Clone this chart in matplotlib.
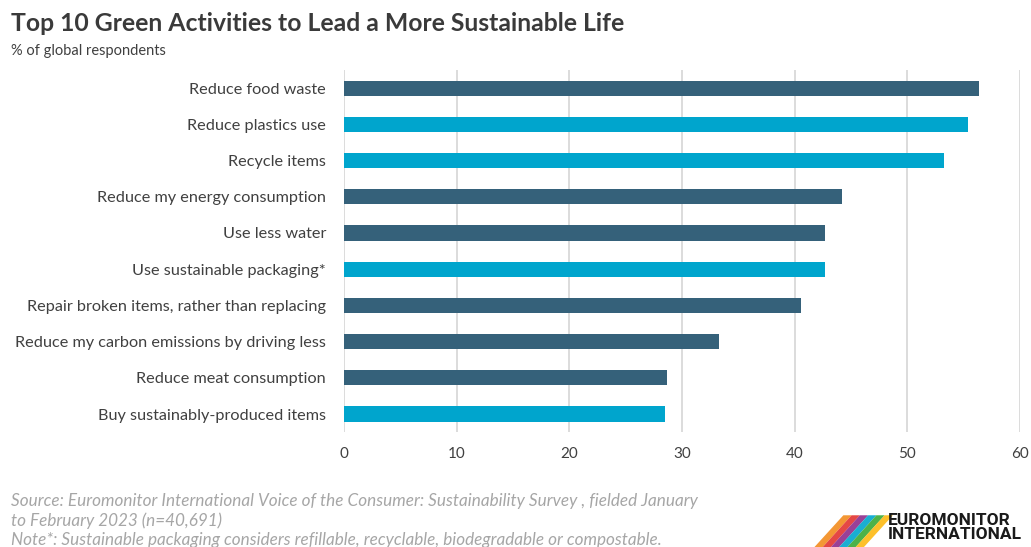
import matplotlib
matplotlib.use("Agg")
import matplotlib.pyplot as plt
from matplotlib.patches import Polygon

activities = [
    "Reduce food waste",
    "Reduce plastics use",
    "Recycle items",
    "Reduce my energy consumption",
    "Use less water",
    "Use sustainable packaging*",
    "Repair broken items, rather than replacing",
    "Reduce my carbon emissions by driving less",
    "Reduce meat consumption",
    "Buy sustainably-produced items",
]
shares = [56.4, 55.4, 53.3, 44.2, 42.7, 42.7, 40.6, 33.3, 28.7, 28.5]
highlight = [False, True, True, False, False, True, False, False, False, True]
xticks = [0, 10, 20, 30, 40, 50, 60]

DARK = "#35617a"
LIGHT = "#00a5cd"
TEXT = "#404040"

plt.rcParams["font.family"] = ["Lato", "DejaVu Sans"]

fig = plt.figure(figsize=(10.31, 5.47), dpi=100)
ax = fig.add_axes([0.3337, 0.21, 0.6556, 0.662])

y = list(range(len(activities)))
colors = [LIGHT if h else DARK for h in highlight]
ax.barh(y, shares, height=0.42, color=colors, zorder=3)
ax.set_ylim(len(activities) - 0.5, -0.5)
ax.set_xlim(0, 60)
ax.set_xticks(xticks)
ax.set_yticks(y, activities)
ax.tick_params(axis="both", length=0, colors=TEXT)
ax.tick_params(axis="y", pad=13, labelsize=11.7)
ax.tick_params(axis="x", pad=11, labelsize=11)
ax.grid(axis="x", color="#d9d9d9", linewidth=1.3, zorder=0)
for s in ax.spines.values():
    s.set_visible(False)

fig.text(0.011, 0.957, "Top 10 Green Activities to Lead a More Sustainable Life",
         fontsize=17.8, fontweight="bold", color="#3a3a3a", va="center")
fig.text(0.011, 0.906, "% of global respondents", fontsize=10.5, color=TEXT, va="center")

foot = ("Source: Euromonitor International Voice of the Consumer: Sustainability Survey , fielded January\n"
        "to February 2023 (n=40,691)\n"
        "Note*: Sustainable packaging considers refillable, recyclable, biodegradable or compostable.")
fig.text(0.011, 0.048, foot, fontsize=12.3, style="italic", color="#a6a6a6",
         va="center", linespacing=1.25)

# simple logo mark
stripe_colors = ["#f28c1e", "#e3342f", "#8e2c8c", "#00a5cd", "#3aaa35", "#fdb913"]
for i, c in enumerate(stripe_colors):
    x0 = 0.790 + i * 0.008
    fig.patches.append(Polygon([[x0, 0.0], [x0 + 0.008, 0.0],
                                [x0 + 0.036, 0.058], [x0 + 0.028, 0.058]],
                               closed=True, transform=fig.transFigure,
                               facecolor=c, edgecolor="none", alpha=0.9))
fig.text(0.861, 0.036, "EUROMONITOR\nINTERNATIONAL", fontsize=12.5, fontweight="bold",
         color="#1a1a1a", va="center", linespacing=0.9, family=["Roboto", "DejaVu Sans"])

fig.savefig("out.png", dpi=100)
